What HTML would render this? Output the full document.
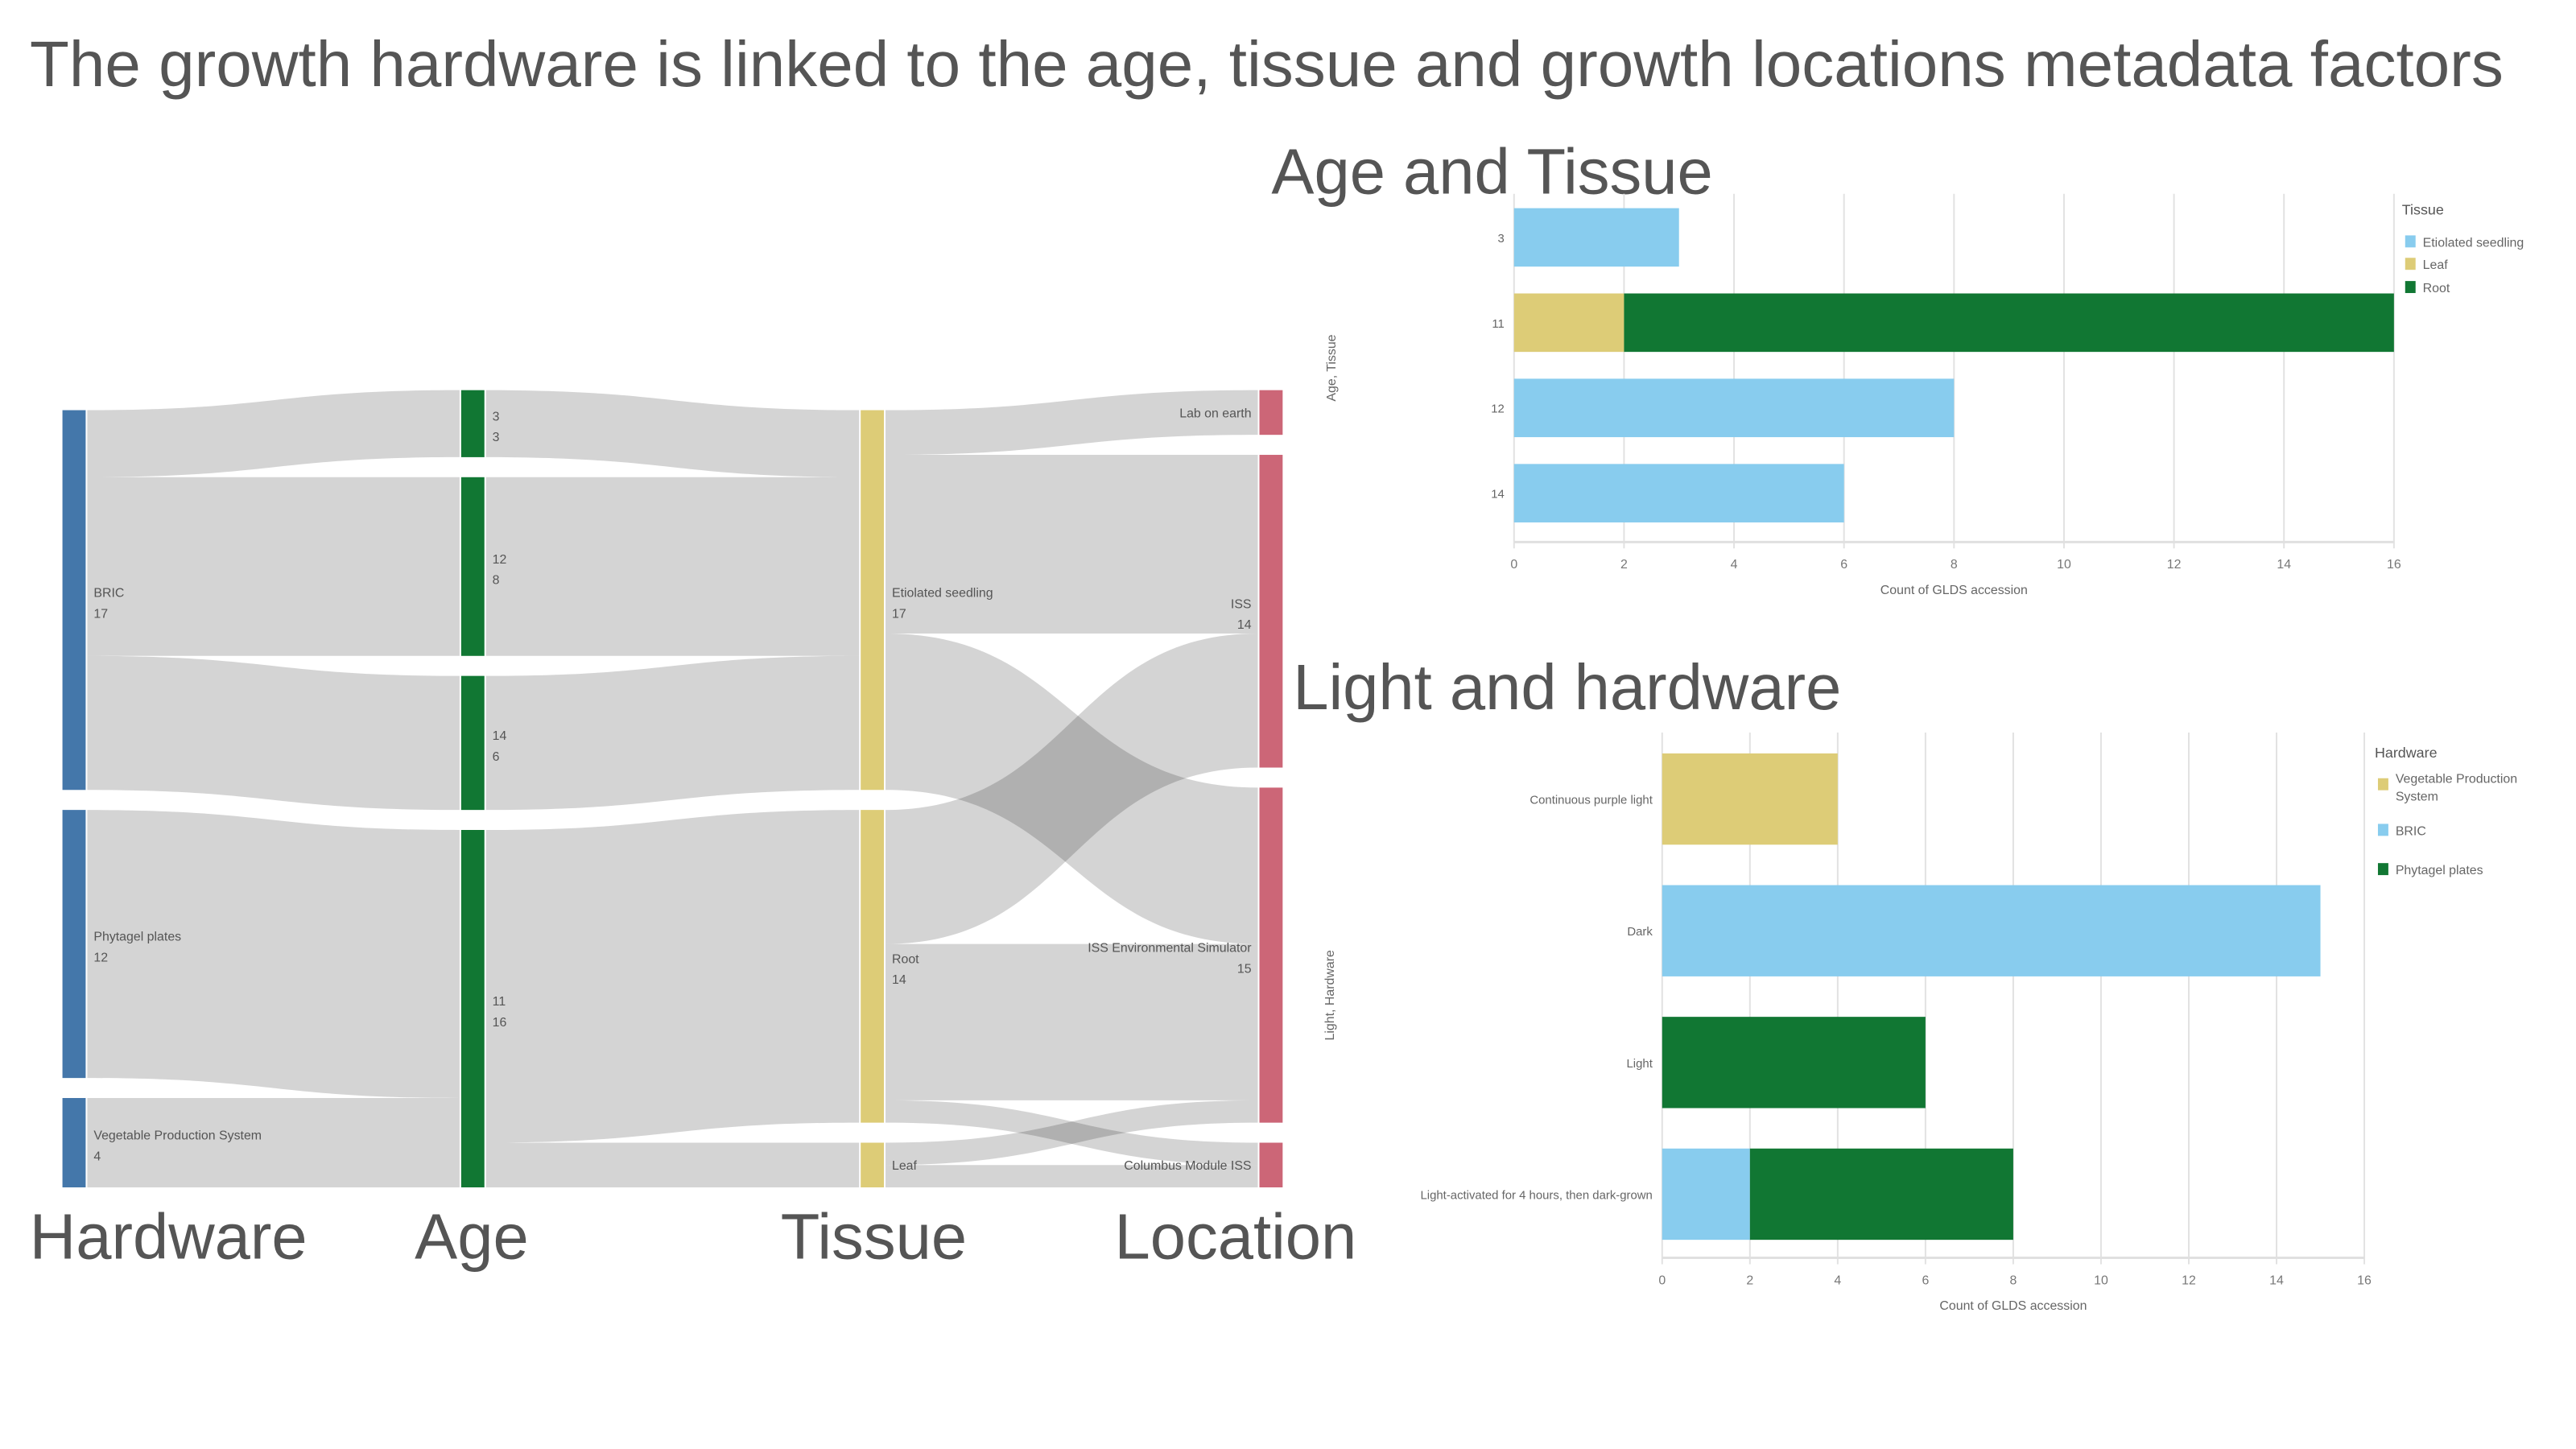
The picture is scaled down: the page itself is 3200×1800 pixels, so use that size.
<!DOCTYPE html>
<html><head><meta charset="utf-8"><style>
html,body{margin:0;padding:0;background:#fff;}
svg{display:block;font-family:"Liberation Sans",sans-serif;}
</style></head><body>
<svg id="s" width="3200" height="1800" viewBox="0 0 3200 1800" xmlns="http://www.w3.org/2000/svg">
<text x="37" y="107" font-size="80" fill="#555">The growth hardware is linked to the age, tissue and growth locations metadata factors</text>
<g transform="scale(0.9946)">
<g id="sankey"></g>
<g id="c1"></g>
<g id="c2"></g>
</g>
</svg>
<script>
// ---------- Sankey data ----------
const hardwareNodes = ["BRIC","Phytagel plates","Vegetable Production System"];
const ageNodes = ["3","12","14","11"];
const tissueNodes = ["Etiolated seedling","Root","Leaf"];
const locationNodes = ["Lab on earth","ISS","ISS Environmental Simulator","Columbus Module ISS"];
const links1 = [["BRIC","3",3],["BRIC","12",8],["BRIC","14",6],["Phytagel plates","11",12],["Vegetable Production System","11",4]];
const links2 = [["3","Etiolated seedling",3],["12","Etiolated seedling",8],["14","Etiolated seedling",6],["11","Root",14],["11","Leaf",2]];
const links3 = [["Etiolated seedling","Lab on earth",2],["Etiolated seedling","ISS",8],["Etiolated seedling","ISS Environmental Simulator",7],["Root","ISS",6],["Root","ISS Environmental Simulator",7],["Root","Columbus Module ISS",1],["Leaf","ISS Environmental Simulator",1],["Leaf","Columbus Module ISS",1]];

// ---------- Bar chart data ----------
const ageCats = ["3","11","12","14"];
const tissueSeries = ["Etiolated seedling","Leaf","Root"];
const etiolatedVals = [3,0,8,6];
const leafVals = [0,2,0,0];
const rootVals = [0,14,0,0];
const lightCats = ["Continuous purple light","Dark","Light","Light-activated for 4 hours, then dark-grown"];
const hwSeries = ["Vegetable Production System","BRIC","Phytagel plates"];
const vpsVals = [4,0,0,0];
const bricVals = [0,15,0,2];
const phytaVals = [0,0,6,6];
const xTicks = [0,2,4,6,8,10,12,14,16];

const NS="http://www.w3.org/2000/svg";
function mk(parent,tag,attrs,txt){const e=document.createElementNS(NS,tag);for(const k in attrs)e.setAttribute(k,attrs[k]);if(txt!==undefined)e.textContent=txt;parent.appendChild(e);return e;}

// ---------- Sankey ----------
const sk=document.getElementById('sankey');
const unit=27.9, gap=25, bottom=1483, nodeW=29;
const cols=[{nodes:hardwareNodes,x:78,color:"#4477aa"},{nodes:ageNodes,x:576,color:"#117733"},{nodes:tissueNodes,x:1075,color:"#ddcc77"},{nodes:locationNodes,x:1573,color:"#cc6677"}];
const allLinks=[links1,links2,links3];
const outS={},inS={};
allLinks.forEach(L=>L.forEach(([a,b,v])=>{outS[a]=(outS[a]||0)+v;inS[b]=(inS[b]||0)+v;}));
const pos={};
cols.forEach(c=>{
  const vs=c.nodes.map(n=>Math.max(outS[n]||0,inS[n]||0));
  const total=vs.reduce((a,b)=>a+b,0);
  let y=bottom-total*unit-gap*(c.nodes.length-1);
  c.nodes.forEach((n,i)=>{pos[n]={x:c.x,y:y,h:vs[i]*unit,v:vs[i],color:c.color,outY:y,inY:y};y+=vs[i]*unit+gap;});
});
const linkG=mk(sk,'g',{});


allLinks.forEach(L=>{
  const order=L.map((l,i)=>i);
  const bySrc=[...order].sort((i,j)=>pos[L[i][0]].y-pos[L[j][0]].y||pos[L[i][1]].y-pos[L[j][1]].y);
  const geo={};
  bySrc.forEach(i=>{const [a,b,v]=L[i];geo[i]={y0:pos[a].outY};pos[a].outY+=v*unit;});
  const byTgt=[...order].sort((i,j)=>pos[L[i][1]].y-pos[L[j][1]].y||pos[L[i][0]].y-pos[L[j][0]].y);
  byTgt.forEach(i=>{const [a,b,v]=L[i];geo[i].y1=pos[b].inY;pos[b].inY+=v*unit;});
  L.forEach(([a,b,v],i)=>{
    const x0=pos[a].x+nodeW+2,x1=pos[b].x-2,h=v*unit,y0=geo[i].y0,y1=geo[i].y1,xm=(x0+x1)/2;
    const d=`M${x0},${y0} C${xm},${y0} ${xm},${y1} ${x1},${y1} L${x1},${y1+h} C${xm},${y1+h} ${xm},${y0+h} ${x0},${y0+h} Z`;
    const p=mk(linkG,'path',{d:d,fill:"#000","fill-opacity":"0.17"});
    
    
  });
});
cols.forEach((c,ci)=>{
  c.nodes.forEach(n=>{
    const p=pos[n];
    const r=mk(sk,'rect',{x:p.x,y:p.y,width:nodeW,height:p.h,fill:p.color});
    
    
    const cy=p.y+p.h/2;
    let tx,anchor;
    if(ci<3){tx=p.x+nodeW+10;anchor='start';}else{tx=p.x-10;anchor='end';}
    const small=p.v<3;
    const t1=mk(sk,'text',{x:tx,y:small?cy+6:cy-4,"font-size":16,fill:"#555","text-anchor":anchor},n);
    
    
    if(!small){
      const t2=mk(sk,'text',{x:tx,y:cy+22,"font-size":16,fill:"#555","text-anchor":anchor},String(p.v));
      
      
    }
  });
});
[["Hardware",37],["Age",518],["Tissue",975],["Location",1392]].forEach(([t,x])=>{
  const e=mk(sk,'text',{x:x,y:1572,"font-size":80,fill:"#555"},t);
  
  
});

// ---------- Bar charts ----------
function barChart(g,cfg){
  const {x0,x1,top,axisY,bandTop,bandH,bandStep,cats,series,colors,vals,legendX,legendY,legendTitle,legendYs,yTitle,yTitleX,title,titleX,titleY,catSize}=cfg;
  const xs=v=>x0+(x1-x0)*v/16;
  const t=mk(g,'text',{x:titleX,y:titleY,"font-size":80,fill:"#555"},title);
  
  
  xTicks.forEach(v=>{
    const l=mk(g,'line',{x1:xs(v),x2:xs(v),y1:top,y2:axisY+8,stroke:"#e2e2e2","stroke-width":2});
    
    
    const tt=mk(g,'text',{x:xs(v),y:axisY+33,"font-size":16,fill:"#777","text-anchor":"middle"},String(v));
    
    
  });
  const ax=mk(g,'line',{x1:x0,x2:x1,y1:axisY,y2:axisY,stroke:"#e0e0e0","stroke-width":3});
  
  
  const xt=mk(g,'text',{x:(x0+x1)/2,y:axisY+65,"font-size":16,fill:"#666","text-anchor":"middle"},"Count of GLDS accession");
  
  
  const yt=mk(g,'text',{x:yTitleX,y:top+(axisY-top)/2,"font-size":16,fill:"#666","text-anchor":"middle",transform:`rotate(-90 ${yTitleX} ${top+(axisY-top)/2})`},yTitle);
  
  
  cats.forEach((c,i)=>{
    const y=bandTop+i*bandStep;
    let acc=0;
    series.forEach((s,si)=>{
      const v=vals[si][i];
      if(v>0){
        const r=mk(g,'rect',{x:xs(acc),y:y,width:xs(acc+v)-xs(acc),height:bandH,fill:colors[si]});
        
        
      }
      acc+=v;
    });
    const cl=mk(g,'text',{x:x0-12,y:y+bandH/2+6,"font-size":catSize,fill:"#666","text-anchor":"end"},c);
    
    
  });
  const lt=mk(g,'text',{x:legendX,y:legendY,"font-size":18,fill:"#555"},legendTitle);
  
  
  series.forEach((s,si)=>{
    const y=legendYs[si];
    const sq=mk(g,'rect',{x:legendX+4,y:y-14,width:13,height:15,fill:colors[si]});
    
    
    const parts=s==="Vegetable Production System"?["Vegetable Production","System"]:[s];
    parts.forEach((p,pi)=>{
      const e=mk(g,'text',{x:legendX+26,y:y-(parts.length>1?8:0)+pi*22,"font-size":16,fill:"#666"},p);
      
      
    });
  });
}
barChart(document.getElementById('c1'),{x0:1891,x1:2990,top:242,axisY:677,bandTop:260,bandH:73,bandStep:106.5,cats:ageCats,series:tissueSeries,colors:["#88ccee","#ddcc77","#117733"],vals:[etiolatedVals,leafVals,rootVals],legendX:3000,legendY:268,legendTitle:"Tissue",legendYs:[308,336,365],yTitle:"Age, Tissue",yTitleX:1668,title:"Age and Tissue",titleX:1588,titleY:242,catSize:15});
barChart(document.getElementById('c2'),{x0:2076,x1:2953,top:915,axisY:1571,bandTop:941,bandH:114,bandStep:164.5,cats:lightCats,series:hwSeries,colors:["#ddcc77","#88ccee","#117733"],vals:[vpsVals,bricVals,phytaVals],legendX:2966,legendY:946,legendTitle:"Hardware",legendYs:[986,1043,1092],yTitle:"Light, Hardware",yTitleX:1666,title:"Light and hardware",titleX:1615,titleY:886,catSize:15});
</script>
</body></html>
